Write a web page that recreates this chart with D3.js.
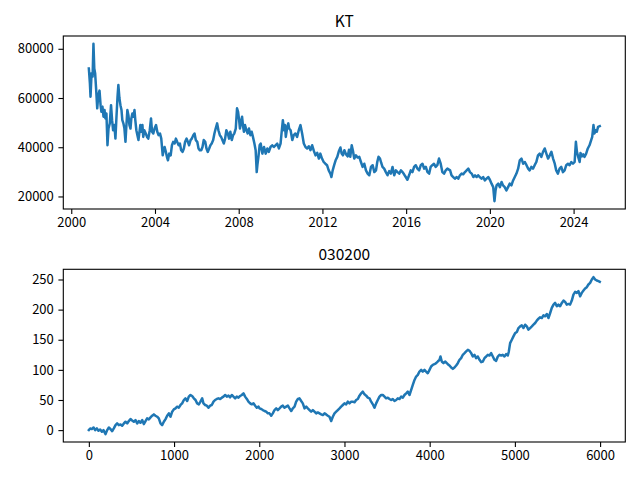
<!DOCTYPE html>
<html><head><meta charset="utf-8">
<script src="https://cdn.jsdelivr.net/npm/d3@7"></script>
<style>
body{margin:0;background:#fff}
svg text{font-family:"Noto Sans CJK KR","Noto Sans",sans-serif;fill:#000}
</style>
</head><body>
<svg id="chart" width="640" height="480"></svg>
<script>
// ---------- Data ----------
const topTitle = "KT";
const bottomTitle = "030200";

const ktYear = [
2000.84,2000.89,2000.92,2000.97,2001.02,2001.06,2001.10,2001.14,2001.19,2001.24,2001.29,2001.35,2001.40,2001.44,2001.49,2001.54,2001.59,2001.63,2001.68,2001.73,2001.78,2001.84,2001.90,2001.95,
2002.00,2002.06,2002.11,2002.16,2002.21,2002.25,2002.30,2002.35,2002.40,2002.44,2002.49,2002.54,2002.59,2002.63,2002.68,2002.73,2002.78,2002.83,2002.87,2002.92,2002.97,
2003.02,2003.06,2003.11,2003.16,2003.21,2003.25,2003.30,2003.35,2003.40,2003.44,2003.49,2003.56,2003.62,2003.68,2003.75,2003.81,2003.86,2003.92,2003.98,
2004.05,2004.11,2004.17,2004.24,2004.30,2004.37,2004.41,2004.46,2004.52,2004.57,2004.62,2004.68,2004.75,2004.81,2004.87,2004.94,
2005.00,2005.06,2005.13,2005.19,2005.25,2005.32,2005.38,2005.44,2005.51,2005.57,2005.63,2005.70,2005.76,2005.83,2005.89,2005.95,
2006.02,2006.08,2006.14,2006.21,2006.27,2006.33,2006.40,2006.46,2006.52,2006.59,2006.65,2006.71,2006.78,2006.84,2006.90,2006.97,
2007.03,2007.10,2007.16,2007.22,2007.29,2007.35,2007.41,2007.48,2007.54,2007.60,2007.67,2007.73,2007.79,2007.86,2007.92,2007.97,
2008.02,2008.06,2008.11,2008.16,2008.21,2008.25,2008.30,2008.37,2008.43,2008.49,2008.56,2008.62,2008.68,2008.75,2008.81,2008.86,2008.90,2008.95,2009.00,
2009.05,2009.13,2009.21,2009.29,2009.37,2009.44,2009.52,2009.60,2009.68,2009.76,2009.84,2009.92,
2010.00,2010.06,2010.11,2010.16,2010.21,2010.25,2010.32,2010.37,2010.41,2010.48,2010.56,2010.63,2010.71,2010.79,2010.87,2010.95,
2011.03,2011.11,2011.19,2011.27,2011.35,2011.43,2011.51,2011.59,2011.67,2011.75,2011.83,2011.90,2011.98,
2012.06,2012.14,2012.22,2012.30,2012.38,2012.43,2012.49,2012.56,2012.63,2012.71,2012.79,2012.86,2012.92,2012.98,
2013.05,2013.13,2013.21,2013.27,2013.33,2013.40,2013.46,2013.52,2013.60,2013.68,2013.76,2013.84,2013.92,
2014.00,2014.08,2014.16,2014.24,2014.32,2014.40,2014.48,2014.56,2014.62,2014.68,2014.75,2014.81,2014.87,2014.95,
2015.03,2015.11,2015.19,2015.27,2015.35,2015.43,2015.51,2015.59,2015.67,2015.75,2015.83,2015.90,2015.98,
2016.06,2016.14,2016.22,2016.30,2016.38,2016.46,2016.54,2016.62,2016.70,2016.78,2016.86,2016.94,
2017.02,2017.10,2017.17,2017.25,2017.33,2017.41,2017.49,2017.57,2017.65,2017.73,2017.81,2017.89,2017.97,
2018.10,2018.17,2018.25,2018.33,2018.41,2018.49,2018.57,2018.65,2018.73,2018.81,2018.89,2018.97,
2019.05,2019.13,2019.21,2019.29,2019.37,2019.44,2019.52,2019.60,2019.68,2019.76,2019.84,2019.92,
2020.00,2020.08,2020.16,2020.22,2020.27,2020.32,2020.40,2020.48,2020.56,2020.63,2020.71,2020.79,2020.87,2020.95,
2021.03,2021.11,2021.19,2021.27,2021.35,2021.43,2021.51,2021.59,2021.67,2021.75,2021.83,2021.90,2021.98,
2022.06,2022.14,2022.22,2022.30,2022.38,2022.46,2022.54,2022.62,2022.70,2022.78,2022.86,2022.94,
2023.02,2023.10,2023.17,2023.25,2023.33,2023.41,2023.49,2023.57,2023.65,2023.73,2023.81,2023.89,2023.97,
2024.05,2024.11,2024.16,2024.22,2024.29,2024.33,2024.40,2024.46,2024.52,2024.60,2024.68,2024.76,2024.84,2024.89,2024.95,
2025.00,2025.05,2025.11,2025.17,2025.25
];
const ktPrice = [
72000,66000,60500,70100,68700,82000,72000,70100,63300,55800,61000,63000,57100,54400,56500,52400,55100,51700,53700,40800,47600,49700,57100,51000,
46900,49000,43500,52400,60500,65300,60000,57100,55100,51000,49700,47600,42200,48300,55100,53000,49000,47600,51700,53700,52400,
55100,51000,46900,44900,42900,45600,49000,46300,49000,44200,46900,45600,44200,43500,46900,51700,46300,45600,47600,
49000,46300,44900,45600,43500,36700,38800,40100,38100,36100,34700,37400,36700,40800,42200,41500,
43500,42200,40800,41500,38800,38100,39500,42200,43500,42200,40800,42900,43500,44900,45600,42900,
42200,39500,38800,38800,40100,42900,42200,39500,38100,39500,40800,41500,42900,45600,47600,49700,
46900,44900,44200,42900,41500,43500,46900,45600,43500,46300,42900,44900,45600,47600,55800,54400,
51000,47600,50300,52400,48300,46300,49000,46900,45600,47600,44900,46300,44200,41500,38800,29900,33300,36700,40800,
41500,37400,40100,37400,39500,38100,40100,40800,40100,40800,41500,39500,
41500,46900,51000,46900,49000,44200,48300,49700,47600,46900,42900,44900,45600,44200,46900,49000,
45600,41500,40100,39500,40400,38800,40800,38500,36700,37700,35400,37400,35400,
34000,33300,32700,30600,29300,27900,30600,32700,34700,36100,38500,39900,37400,36700,
38800,37100,36300,39000,36100,40800,38500,35400,36700,35800,36100,34000,32000,
33300,30600,29300,28600,32000,32700,29900,30600,34000,36100,35400,33600,32000,31300,
29900,28600,30300,29300,32000,28600,30600,29900,29300,30600,29900,29000,27900,
26800,28600,30600,29900,32000,32700,31300,30600,32700,33300,31300,32000,
29900,29300,32000,32700,33300,32000,32700,35400,33300,29900,29300,30600,31300,
30600,28600,27900,27200,27900,27200,28600,29300,29000,29900,30600,31300,
29900,29300,27900,28600,27900,28600,27900,27200,27900,26500,27200,27900,
26800,25200,23800,18100,22400,24500,25200,23800,25900,24500,23800,22400,23800,25200,
24500,26500,27900,29300,31300,34700,35400,33300,34000,32700,31300,30600,32000,
31300,32700,34000,36700,37400,36100,38100,39500,37400,35400,36700,38100,
35400,33300,30600,29300,31300,32000,29900,30600,32700,33300,32700,34000,33300,
34000,42200,38100,36100,34000,37700,36300,37100,36100,37400,39500,40800,42900,44200,49000,
45600,46900,46300,48300,48600
];
const ktYearTicks = [2000, 2004, 2008, 2012, 2016, 2020, 2024];
const ktPriceTicks = [20000, 40000, 60000, 80000];

const seriesIndex = [
0,16,35,55,74,94,113,133,153,172,196,215,235,254,274,293,313,332,352,372,391,411,430,450,469,489,508,528,548,567,587,606,626,645,665,684,704,724,743,763,782,802,821,841,860,880,900,919,939,958,978,997,
1017,1036,1056,1076,1095,1115,1134,1154,1173,1193,1212,1232,1252,1271,1291,1310,1330,1345,1365,1384,1404,1424,1443,1463,1482,1502,1521,1541,1561,1580,1600,1619,1639,1658,1678,1697,1717,1736,1756,1776,1795,1815,1834,1854,1873,1893,1912,1932,1952,1971,1991,
2003,2023,2042,2062,2081,2101,2120,2140,2159,2179,2199,2218,2238,2257,2277,2296,2316,2336,2355,2375,2394,2414,2433,2453,2472,2492,2511,2531,2551,2570,2590,2609,2629,2648,2668,2687,2707,2727,2746,2766,2785,2805,2824,2844,2863,2883,2903,2922,2942,2961,2981,
3000,3020,3039,3059,3079,3098,3118,3137,3157,3176,3196,3215,3235,3255,3274,3294,3313,3333,3352,3372,3391,3411,3431,3450,3470,3489,3509,3528,3548,3567,3587,3607,3626,3646,3665,3685,3704,3724,3743,3763,3783,3802,3822,3841,3861,3880,3900,3919,3939,3958,3978,3998,
4017,4037,4056,4076,4095,4115,4127,4142,4162,4181,4201,4221,4233,4252,4272,4291,4311,4330,4350,4369,4389,4409,4428,4448,4467,4487,4506,4526,4545,4565,4585,4604,4624,4643,4663,4682,4702,4721,4741,4761,4780,4800,4819,4839,4858,4878,4897,4917,4929,4944,4964,4983,
5003,5023,5042,5062,5081,5101,5120,5140,5159,5179,5199,5218,5238,5257,5277,5296,5316,5335,5355,5375,5394,5414,5433,5453,5472,5492,5511,5531,5551,5570,5590,5609,5629,5648,5668,5687,5707,5727,5746,5766,5785,5805,5824,5844,5863,5883,5903,5922,5942,5961,5981,5996
];
const seriesValue = [
0,2.8,1.7,4.4,0,2.8,-1.1,1.1,-2.8,0,-6.7,0,4.4,1.7,-1.7,2.8,8.3,11.1,8.3,9.4,7.2,11.1,13.9,11.1,15,18.3,16.1,13.9,16.7,11.1,15,12.2,16.7,10,15,19.4,17.8,21.1,23.9,26.1,23.9,22.2,19.4,11.1,8.3,13.9,18.3,23.9,27.8,22.2,30.6,34.4,
36.1,38.9,37.2,41.7,44.4,50,52.8,48.3,55.6,58.3,56.7,52.8,50,44.4,42.8,47.2,52.8,44.4,41.7,40.6,37.2,40.6,41.7,47.2,50,51.7,52.8,51.7,53.9,55.6,58.3,55.6,57.2,54.4,58.3,55.6,52.8,55.6,53.9,56.7,58.3,61.1,55.6,51.7,47.2,44.4,42.8,44.4,40.6,37.2,38.9,
36.1,35,33.3,31.7,30.6,27.8,27.8,23.9,27.8,33.3,36.1,33.3,36.1,38.9,40.6,37.2,38.9,40.6,36.1,31.7,36.1,38.9,47.2,51.7,52.8,48.3,44.4,36.1,38.9,36.1,33.3,30.6,33.3,30.6,27.8,29.4,27.8,26.1,25,27.8,26.1,23.9,22.2,15,22.2,27.8,30.6,33.3,36.1,38.9,41.7,
44.4,42.8,47.2,44.4,47.2,47.2,46.1,50,51.7,57.2,61.1,63.9,59.4,57.2,53.9,52.8,47.2,42.8,37.2,44.4,50,55.6,58.3,58.3,55.6,52.8,53.9,51.7,50,51.7,48.3,50,52.8,51.7,55.6,53.9,58.3,61.1,63.9,58.3,66.7,75,83.3,88.9,91.7,97.2,100,97.2,100,97.2,94.4,100,
105.6,108.3,109.4,111.1,113.9,116.7,122.2,113.9,111.1,113.9,111.1,108.3,107.2,103.9,101.7,103.9,107.2,111.1,116.7,119.4,125,127.8,130.6,133.3,131.7,127.8,122.2,125,119.4,122.2,116.7,112.8,113.9,119.4,122.2,125,123.9,127.8,122.2,116.7,115,122.2,125,123.9,125,122.2,126.1,123.9,130.6,144.4,150,155.6,
161.1,162.8,169.4,172.2,173.9,169.4,175,172.2,166.7,169.4,172.2,175,177.8,181.7,185,187.2,186.1,190.6,188.9,192.8,186.1,194.4,202.8,208.3,211.1,205.6,208.3,205.6,211.1,215,212.8,208.3,209.4,208.3,215,225,229.4,227.8,230.6,222.2,227.8,231.7,235,237.2,241.7,244.4,250,253.9,250,248.3,247.2,246.1
];
const seriesIndexTicks = [0, 1000, 2000, 3000, 4000, 5000, 6000];
const seriesValueTicks = [0, 50, 100, 150, 200, 250];

// ---------- Drawing ----------
const svg = d3.select("#chart");
const lineColor = "#1f77b4";

function padded(arr) {
  const [lo, hi] = d3.extent(arr);
  const s = hi - lo;
  return [lo - 0.05 * s, hi + 0.05 * s];
}

function panel(box, xs, ys, xTicks, yTicks, title, fmtX) {
  const x = d3.scaleLinear().domain(padded(xs)).range([box.x0, box.x1]);
  const y = d3.scaleLinear().domain(padded(ys)).range([box.y1, box.y0]);
  const g = svg.append("g");

  const pts = xs.map((v, i) => [v, ys[i]]);
  g.append("path")
    .datum(pts)
    .attr("fill", "none")
    .attr("stroke", lineColor)
    .attr("stroke-width", 2.5)
    .attr("stroke-linejoin", "round")
    .attr("stroke-linecap", "square")
    .attr("d", d3.line().x(d => x(d[0])).y(d => y(d[1])));

  const xa = g.append("g").attr("transform", `translate(0,${box.y1})`)
    .call(d3.axisBottom(x).tickValues(xTicks).tickFormat(fmtX).tickSize(4.9).tickPadding(4.2).tickSizeOuter(0));
  const ya = g.append("g").attr("transform", `translate(${box.x0},0)`)
    .call(d3.axisLeft(y).tickValues(yTicks).tickFormat(d3.format("d")).tickSize(4.9).tickPadding(4.6).tickSizeOuter(0));
  [xa, ya].forEach(a => {
    a.select(".domain").remove();
    a.attr("font-family", null).attr("font-size", null);
    a.selectAll("line").attr("stroke", "#000").attr("stroke-width", 1.1);
    a.selectAll("text").style("font-size", "13px").attr("fill", "#000");
  });

  g.append("rect")
    .attr("x", box.x0).attr("y", box.y0)
    .attr("width", box.x1 - box.x0).attr("height", box.y1 - box.y0)
    .attr("fill", "none").attr("stroke", "#000").attr("stroke-width", 1.1);

  g.append("text")
    .attr("x", (box.x0 + box.x1) / 2).attr("y", box.y0 - 9.5)
    .attr("text-anchor", "middle")
    .style("font-size", "15.5px")
    .text(title);
}

panel({x0: 63.3, x1: 625.3, y0: 36, y1: 209}, ktYear, ktPrice, ktYearTicks, ktPriceTicks, topTitle, d3.format("d"));
panel({x0: 63.3, x1: 625.3, y0: 269.3, y1: 442}, seriesIndex, seriesValue, seriesIndexTicks, seriesValueTicks, bottomTitle, d3.format("d"));
</script>
</body></html>
